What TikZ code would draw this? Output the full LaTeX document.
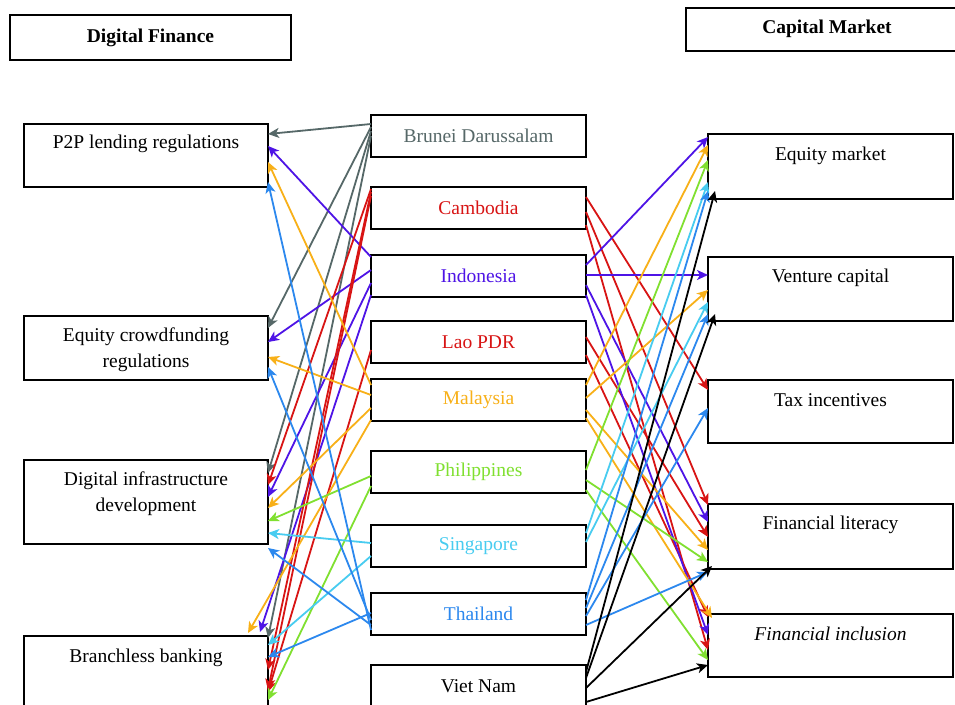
\documentclass[tikz,border=0pt]{standalone}
\usepackage{fontspec}
\setmainfont{Liberation Serif}
\usetikzlibrary{arrows.meta}
\definecolor{cgray}{HTML}{566868}
\definecolor{cred}{HTML}{D81414}
\definecolor{cvio}{HTML}{4E14E6}
\definecolor{cora}{HTML}{F8B018}
\definecolor{cgre}{HTML}{80E030}
\definecolor{ccya}{HTML}{48CCF0}
\definecolor{cblu}{HTML}{2C88EE}
\newcommand\lk[5]{\draw[link,#1] (#2.west |- 0,#3) -- (#4.east |- 0,#5);}
\newcommand\rk[5]{\draw[link,#1] (#2.east |- 0,#3) -- (#4.west |- 0,#5);}
\begin{document}
\begin{tikzpicture}[x=1pt,y=-1pt,
  box/.style={draw=black,line width=2pt,fill=white,anchor=north west,inner sep=0pt,outer sep=0pt},
  txt/.style={font=\fontsize{19.5}{26}\selectfont,align=center,inner sep=0pt},
  link/.style={line width=1.8pt,-{Stealth[length=11pt,width=10pt,inset=3pt]}}]
\useasboundingbox (0,0) rectangle (955,704);
\clip (0,0) rectangle (955,704);
\fill[white] (0,0) rectangle (955,704);
% headers
\node[box,minimum width=281pt,minimum height=45pt] (dfh) at (10,15) {};
\node[txt,font=\fontsize{19.5}{26}\selectfont\bfseries] (dft) at (dfh.center) {Digital Finance};
\node[box,minimum width=283pt,minimum height=43pt] (cmh) at (686,8) {};
\node[txt,font=\fontsize{19.5}{26}\selectfont\bfseries] (cmt) at (827,29) {Capital Market};
% left boxes
\node[box,minimum width=244pt,minimum height=63pt] (p2p) at (24,124) {};
\node[txt] (p2pt) at (p2p.north |- 0,144) {P2P lending regulations};
\node[box,minimum width=244pt,minimum height=64pt] (ecr) at (24,316) {};
\node[txt] (ecrt) at (ecr.north |- 0,350) {Equity crowdfunding\\regulations};
\node[box,minimum width=244pt,minimum height=84pt] (dig) at (24,460) {};
\node[txt] (digt) at (dig.north |- 0,494) {Digital infrastructure\\development};
\node[box,minimum width=244pt,minimum height=84pt] (bra) at (24,636) {};
\node[txt] (brat) at (bra.north |- 0,658) {Branchless banking};
% middle boxes
\node[box,minimum width=215pt,minimum height=42pt] (bru) at (371,115) {};
\node[txt,text=cgray] (brut) at (bru.center) {Brunei Darussalam};
\node[box,minimum width=215pt,minimum height=42pt] (cam) at (371,187) {};
\node[txt,text=cred] (camt) at (cam.center) {Cambodia};
\node[box,minimum width=215pt,minimum height=42pt] (ind) at (371,255) {};
\node[txt,text=cvio] (indt) at (ind.center) {Indonesia};
\node[box,minimum width=215pt,minimum height=42pt] (lao) at (371,321) {};
\node[txt,text=cred] (laot) at (lao.center) {Lao PDR};
\node[box,minimum width=215pt,minimum height=42pt] (mal) at (371,379) {};
\node[txt,text=cora] (malt) at (mal.center) {Malaysia};
\node[box,minimum width=215pt,minimum height=42pt] (phi) at (371,451) {};
\node[txt,text=cgre] (phit) at (phi.center) {Philippines};
\node[box,minimum width=215pt,minimum height=42pt] (sin) at (371,525) {};
\node[txt,text=ccya] (sint) at (sin.center) {Singapore};
\node[box,minimum width=215pt,minimum height=42pt] (tha) at (371,593) {};
\node[txt,text=cblu] (that) at (tha.center) {Thailand};
\node[box,minimum width=215pt,minimum height=50pt] (vie) at (371,665) {};
\node[txt] (viet) at (vie.north |- 0,686) {Viet Nam};
% right boxes
\node[box,minimum width=245pt,minimum height=65pt] (eqm) at (708,134) {};
\node[txt] (eqmt) at (eqm.north |- 0,156) {Equity market};
\node[box,minimum width=245pt,minimum height=64pt] (vca) at (708,257) {};
\node[txt] (vcat) at (vca.north |- 0,278) {Venture capital};
\node[box,minimum width=245pt,minimum height=63pt] (tax) at (708,380) {};
\node[txt] (taxt) at (tax.north |- 0,400) {Tax incentives};
\node[box,minimum width=245pt,minimum height=65pt] (fli) at (708,504) {};
\node[txt] (flit) at (fli.north |- 0,525) {Financial literacy};
\node[box,minimum width=245pt,minimum height=63pt] (fin) at (708,614) {};
\node[txt,font=\fontsize{19.5}{26}\selectfont\itshape] (fint) at (fin.north |- 0,634) {Financial inclusion};
% ---- left links
\lk{cgray}{bru}{124}{p2p}{134}
\lk{cgray}{bru}{127}{ecr}{328}
\lk{cgray}{bru}{131}{dig}{473}
\lk{cgray}{bru}{136}{bra}{638}
\lk{cvio}{ind}{257}{p2p}{146}
\lk{cvio}{ind}{270}{ecr}{342}
\lk{cvio}{ind}{283}{dig}{497}
\draw[link,cvio] (ind.west |- 0,295) -- ([xshift=-8pt,yshift=4pt]bra.north east);
\lk{cred}{cam}{189}{dig}{485}
\lk{cred}{cam}{192}{bra}{670}
\lk{cred}{cam}{196}{bra}{690}
\lk{cred}{lao}{350}{bra}{692}
\lk{cora}{mal}{385}{p2p}{162}
\lk{cora}{mal}{395}{ecr}{357}
\lk{cora}{mal}{408}{dig}{508}
\draw[link,cora] (mal.west |- 0,420) -- ([xshift=-20pt,yshift=3pt]bra.north east);
\lk{cgre}{phi}{476}{dig}{521}
\lk{cgre}{phi}{486}{bra}{700}
\lk{ccya}{sin}{543}{dig}{533}
\lk{ccya}{sin}{556}{bra}{645}
\lk{cblu}{tha}{630}{p2p}{182}
\lk{cblu}{tha}{620}{ecr}{367}
\lk{cblu}{tha}{625}{dig}{548}
\lk{cblu}{tha}{613}{bra}{657}
% ---- right links
\rk{cred}{cam}{197}{tax}{390}
\rk{cred}{cam}{212}{fli}{505}
\rk{cred}{cam}{225}{fin}{650}
\rk{cred}{lao}{337}{fli}{537}
\rk{cred}{lao}{355}{fin}{617}
\rk{cvio}{ind}{265}{eqm}{137}
\rk{cvio}{ind}{275}{vca}{275}
\rk{cvio}{ind}{285}{fli}{522}
\rk{cvio}{ind}{295}{fin}{635}
\rk{cora}{mal}{385}{eqm}{145}
\rk{cora}{mal}{398}{vca}{290}
\rk{cora}{mal}{410}{fli}{550}
\draw[link,cora] (mal.east |- 0,418) -- ([xshift=4pt,yshift=-4pt]fin.north west);
\rk{cgre}{phi}{470}{eqm}{160}
\rk{cgre}{phi}{480}{fli}{562}
\rk{cgre}{phi}{490}{fin}{660}
\rk{ccya}{sin}{533}{eqm}{182}
\rk{ccya}{sin}{542}{vca}{302}
\draw[link,cblu] (tha.east |- 0,600) -- ([yshift=8pt]eqm.south west);
\draw[link,cblu] (tha.east |- 0,608) -- ([yshift=7pt]vca.south west);
\rk{cblu}{tha}{616}{tax}{408}
\rk{cblu}{tha}{625}{fli}{572}
\draw[link,black] (vie.east |- 0,672) -- ([xshift=7pt,yshift=8pt]eqm.south west);
\draw[link,black] (vie.east |- 0,678) -- ([xshift=7pt,yshift=7pt]vca.south west);
\draw[link,black] (vie.east |- 0,688) -- ([xshift=4pt,yshift=3pt]fli.south west);
\rk{black}{vie}{702}{fin}{665}
\end{tikzpicture}
\end{document}
